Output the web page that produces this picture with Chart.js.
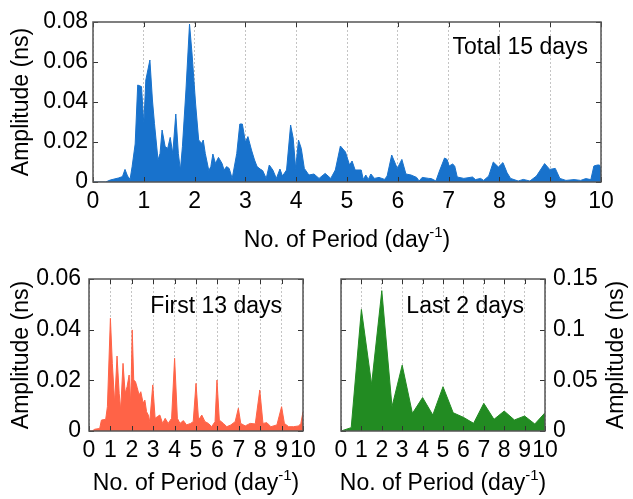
<!DOCTYPE html>
<html>
<head>
<meta charset="utf-8">
<script src="https://cdn.jsdelivr.net/npm/chart.js@4.4.1/dist/chart.umd.min.js"></script>
<style>
  html, body { margin: 0; padding: 0; background: #fff; }
  #wrap { position: relative; width: 633px; height: 499px; background: #fff; overflow: hidden; }
  canvas { position: absolute; }
</style>
</head>
<body>
<div id="wrap">
  <canvas id="c1" width="633" height="255" style="left:0;top:0;width:633px;height:255px"></canvas>
  <canvas id="c2" width="320" height="244" style="left:0;top:255px;width:320px;height:244px"></canvas>
  <canvas id="c3" width="313" height="244" style="left:320px;top:255px;width:313px;height:244px"></canvas>
</div>
<script>
// ---------------- DATA ----------------
// Total 15 days spectrum
const freqTotal = [0,0.25,0.34,0.5,0.58,0.63,0.68,0.73,0.77,0.83,0.88,0.955,1.0,1.04,1.12,1.17,1.21,1.28,1.32,1.36,1.42,1.47,1.52,1.57,1.63,1.68,1.72,1.76,1.83,1.9,1.95,2.02,2.08,2.14,2.17,2.21,2.28,2.32,2.36,2.41,2.47,2.54,2.58,2.63,2.68,2.74,2.83,2.89,2.94,3.0,3.05,3.12,3.18,3.23,3.29,3.34,3.41,3.47,3.54,3.61,3.68,3.73,3.81,3.89,3.94,3.99,4.045,4.1,4.16,4.25,4.35,4.45,4.57,4.68,4.77,4.87,4.97,5.05,5.1,5.16,5.28,5.32,5.37,5.42,5.47,5.54,5.63,5.74,5.79,5.88,5.99,6.08,6.16,6.26,6.37,6.42,6.48,6.61,6.66,6.75,6.82,6.92,6.97,7.01,7.08,7.12,7.17,7.3,7.47,7.53,7.63,7.69,7.79,7.88,7.98,8.07,8.15,8.22,8.37,8.47,8.6,8.73,8.89,8.99,9.1,9.19,9.31,9.47,9.6,9.7,9.8,9.86,9.93,9.97,10];
const ampTotal = [0,0,0.001,0.002,0.0027,0.0063,0.003,0.0013,0.0077,0.019,0.0485,0.0477,0.029,0.051,0.061,0.041,0.0293,0.011,0.0143,0.026,0.0177,0.0168,0.0223,0.0143,0.034,0.0143,0.006,0.0177,0.046,0.079,0.064,0.039,0.021,0.0193,0.021,0.0143,0.0057,0.0077,0.014,0.0093,0.0123,0.0093,0.006,0.0077,0.0068,0.0018,0.0143,0.029,0.029,0.020,0.0227,0.016,0.011,0.0077,0.0065,0.0057,0.0018,0.0085,0.006,0.0018,0.0065,0.003,0.006,0.0285,0.022,0.0068,0.021,0.0168,0.0068,0.0035,0.004,0.0018,0.0043,0.0018,0.006,0.018,0.015,0.0085,0.0105,0.006,0.006,0.0013,0.0035,0.0013,0.004,0.0018,0.0023,0.0013,0.003,0.0135,0.0068,0.0113,0.004,0.0035,0.0023,0.0005,0.0023,0.0018,0.0017,0.0005,0.0055,0.012,0.0113,0.008,0.009,0.008,0.0025,0.0018,0.0025,0.0012,0.0018,0.0008,0.003,0.01,0.0075,0.0097,0.0047,0.0018,0.0005,0.0013,0.0005,0.003,0.0092,0.0063,0.0068,0.0018,0.0008,0.0012,0.0008,0.0017,0.0012,0.008,0.0085,0.0085,0.0065];

// First 13 days spectrum
const freqFirst = [0,0.15,0.27,0.5,0.58,0.78,0.86,1.0,1.09,1.2,1.31,1.41,1.48,1.59,1.69,1.78,1.875,1.95,2.02,2.09,2.17,2.25,2.34,2.42,2.53,2.61,2.69,2.77,2.84,2.98,3.09,3.2,3.31,3.44,3.56,3.7,3.86,4.0,4.13,4.25,4.41,4.56,4.75,4.87,5.0,5.12,5.27,5.42,5.58,5.73,5.89,5.98,6.09,6.28,6.44,6.63,6.83,6.98,7.09,7.3,7.53,7.77,7.98,8.13,8.31,8.5,8.78,9.0,9.13,9.33,9.56,9.8,9.9,10];
const ampFirst = [0,0,0.0007,0.001,0.0043,0.0046,0.0096,0.0445,0.0267,0.011,0.0296,0.0149,0.0083,0.0267,0.0149,0.0175,0.0221,0.011,0.0399,0.0201,0.0195,0.0172,0.0142,0.0155,0.011,0.0122,0.0076,0.0063,0.0037,0.0182,0.005,0.0057,0.0063,0.003,0.005,0.003,0.005,0.0287,0.005,0.003,0.0041,0.0024,0.003,0.0037,0.0188,0.0043,0.0063,0.0037,0.003,0.0017,0.0037,0.0201,0.0043,0.003,0.0017,0.0024,0.0037,0.009,0.003,0.002,0.003,0.0028,0.0162,0.003,0.0033,0.0017,0.0024,0.0096,0.003,0.0017,0.0017,0.002,0.003,0.0076];

// Last 2 days spectrum
const freqLast = [0,0.5,1,1.5,2,2.5,3,3.5,4,4.5,5,5.5,6,6.5,7,7.5,8,8.5,9,9.5,10];
const ampLast = [0,0.0033,0.120,0.046,0.1385,0.024,0.065,0.0174,0.033,0.0158,0.0437,0.018,0.0135,0.0076,0.0273,0.0115,0.0197,0.0109,0.0148,0.0069,0.018];

// Tick values and labels
const xTicks = [0,1,2,3,4,5,6,7,8,9,10];
const xTickLabels = ['0','1','2','3','4','5','6','7','8','9','10'];
const yTicksTotal = [0,0.02,0.04,0.06,0.08];
const yLabelsTotal = ['0','0.02','0.04','0.06','0.08'];
const yTicksFirst = [0,0.02,0.04,0.06];
const yLabelsFirst = ['0','0.02','0.04','0.06'];
const yTicksLast = [0,0.05,0.1,0.15];
const yLabelsLast = ['0','0.05','0.1','0.15'];

// ---------------- STYLE ----------------
const FONT = '"Liberation Sans", Arial, Helvetica, sans-serif';
const FS = 23;

function framePlugin(o) {
  return {
    id: 'frame',
    afterDraw(chart) {
      const { ctx, chartArea: a, scales } = chart;
      const xs = scales.x, ys = scales.y;
      ctx.save();
      // inward tick marks
      ctx.strokeStyle = '#333';
      ctx.lineWidth = 1;
      const tl = 5;
      ctx.beginPath();
      xs.ticks.forEach(t => {
        const px = Math.round(xs.getPixelForValue(t.value)) + 0.5;
        ctx.moveTo(px, a.bottom); ctx.lineTo(px, a.bottom - tl);
        ctx.moveTo(px, a.top); ctx.lineTo(px, a.top + tl);
      });
      ys.ticks.forEach(t => {
        const py = Math.round(ys.getPixelForValue(t.value)) + 0.5;
        ctx.moveTo(a.left, py); ctx.lineTo(a.left + tl, py);
        ctx.moveTo(a.right, py); ctx.lineTo(a.right - tl, py);
      });
      ctx.stroke();
      // box
      ctx.strokeStyle = '#555';
      ctx.lineWidth = 1.5;
      ctx.strokeRect(a.left, a.top, a.right - a.left, a.bottom - a.top);
      // annotation
      ctx.fillStyle = '#000';
      ctx.font = FS + 'px ' + FONT;
      ctx.textAlign = 'right';
      ctx.textBaseline = 'middle';
      ctx.fillText(o.note, a.right - o.noteRight, a.top + o.noteTop);
      // x-axis title with superscript
      const main = 'No. of Period (day', sup = '-1', tail = ')';
      ctx.font = FS + 'px ' + FONT;
      const w1 = ctx.measureText(main).width, w3 = ctx.measureText(tail).width;
      ctx.font = '15px ' + FONT;
      const w2 = ctx.measureText(sup).width;
      let x0 = (a.left + a.right) / 2 - (w1 + w2 + w3) / 2;
      ctx.textAlign = 'left';
      ctx.textBaseline = 'alphabetic';
      ctx.font = FS + 'px ' + FONT;
      ctx.fillText(main, x0, o.titleBase);
      ctx.font = '15px ' + FONT;
      ctx.fillText(sup, x0 + w1, o.titleBase - 10);
      ctx.font = FS + 'px ' + FONT;
      ctx.fillText(tail, x0 + w1 + w2, o.titleBase);
      // right-side y title (reads bottom to top)
      if (o.rightTitleX) {
        ctx.translate(o.rightTitleX, (a.top + a.bottom) / 2);
        ctx.rotate(-Math.PI / 2);
        ctx.textAlign = 'center';
        ctx.textBaseline = 'middle';
        ctx.fillText('Amplitude (ns)', 0, 0);
      }
      ctx.restore();
    }
  };
}

function makeChart(id, cfg) {
  const pts = cfg.xs.map((x, i) => ({ x: x, y: cfg.ys[i] }));
  return new Chart(document.getElementById(id), {
    type: 'line',
    data: {
      datasets: [{
        data: pts,
        fill: 'origin',
        backgroundColor: cfg.color,
        borderColor: cfg.color,
        borderWidth: 1,
        pointRadius: 0,
        tension: 0
      }]
    },
    options: {
      responsive: false,
      devicePixelRatio: 1,
      animation: false,
      events: [],
      layout: { padding: cfg.padding },
      plugins: { legend: { display: false }, tooltip: { enabled: false } },
      scales: {
        x: {
          type: 'linear',
          min: 0, max: 10,
          afterBuildTicks: s => { s.ticks = xTicks.map(v => ({ value: v })); },
          afterFit: s => { s.height = cfg.xHeight; s.paddingLeft = 0; s.paddingRight = 0; },
          ticks: {
            autoSkip: false, maxRotation: 0, minRotation: 0,
            padding: cfg.xPad, color: '#000',
            font: { family: FONT, size: FS },
            callback: (v, i) => xTickLabels[i]
          },
          grid: { color: '#c4c4c4', lineWidth: 1, drawTicks: false },
          border: { display: false, dash: [2, 2] }
        },
        y: {
          type: 'linear',
          position: cfg.yPos,
          min: 0, max: cfg.yMax,
          afterBuildTicks: s => { s.ticks = cfg.yTicks.map(v => ({ value: v })); },
          afterFit: s => { s.width = cfg.yWidth; s.paddingTop = 0; s.paddingBottom = 0; },
          ticks: {
            padding: cfg.yPad, color: '#000',
            font: { family: FONT, size: FS },
            callback: (v, i) => cfg.yLabels[i]
          },
          grid: { display: false, drawTicks: false },
          border: { display: false },
          title: {
            display: cfg.yPos === 'left',
            text: 'Amplitude (ns)',
            color: '#000',
            font: { family: FONT, size: FS },
            padding: { top: 8, bottom: 0 }
          }
        }
      }
    },
    plugins: [framePlugin(cfg.frame)]
  });
}

makeChart('c1', {
  xs: freqTotal, ys: ampTotal, color: '#1872CC',
  padding: { left: 0, top: 22, right: 32, bottom: 0 },
  xHeight: 73, yWidth: 93, xPad: 6, yPad: 5,
  yPos: 'left', yMax: 0.08, yTicks: yTicksTotal, yLabels: yLabelsTotal,
  frame: { note: 'Total 15 days', noteRight: 13, noteTop: 26, titleBase: 247 }
});

makeChart('c2', {
  xs: freqFirst, ys: ampFirst, color: '#FF6347',
  padding: { left: 0, top: 24, right: 17, bottom: 0 },
  xHeight: 68, yWidth: 89, xPad: 6, yPad: 8,
  yPos: 'left', yMax: 0.06, yTicks: yTicksFirst, yLabels: yLabelsFirst,
  frame: { note: 'First 13 days', noteRight: 21, noteTop: 28, titleBase: 235 }
});

makeChart('c3', {
  xs: freqLast, ys: ampLast, color: '#228B22',
  padding: { left: 21, top: 24, right: 0, bottom: 0 },
  xHeight: 68, yWidth: 88, xPad: 6, yPad: 8,
  yPos: 'right', yMax: 0.15, yTicks: yTicksLast, yLabels: yLabelsLast,
  frame: { note: 'Last 2 days', noteRight: 21, noteTop: 28, titleBase: 235, rightTitleX: 297 }
});
</script>
</body>
</html>
